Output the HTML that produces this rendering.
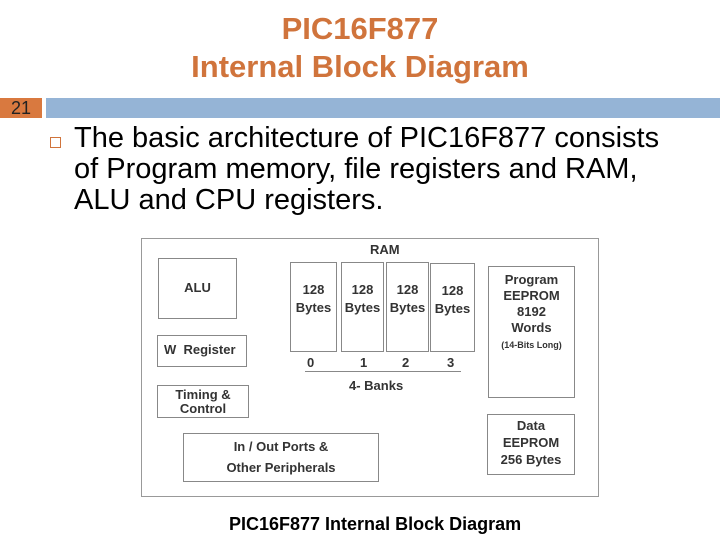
<!DOCTYPE html>
<html><head><style>
body{margin:0;width:720px;height:540px;background:#fff;position:relative;overflow:hidden;font-family:"Liberation Sans",sans-serif}
.a{position:absolute}
.t{color:#d0743c;font-size:31px;font-weight:bold;width:720px;text-align:center;left:0}
.b{position:absolute;border:1.5px solid #888;box-sizing:border-box;font-size:13px;font-weight:bold;color:#333;text-align:center;line-height:18px}
.d{position:absolute;font-size:13px;font-weight:bold;color:#333}
</style></head><body>
<div class="a t" style="top:11px">PIC16F877</div>
<div class="a t" style="top:49px">Internal Block Diagram</div>
<div class="a" style="left:0;top:98px;width:42px;height:20px;background:#d9793f;font-size:18px;line-height:20px;text-align:center;color:#222">21</div>
<div class="a" style="left:46px;top:98px;width:674px;height:20px;background:#95b4d6"></div>
<div class="a" style="left:50px;top:137px;width:9px;height:9px;border:1.5px solid #d0743c"></div>
<div class="a" style="left:74px;top:123px;font-size:29px;line-height:31px;color:#000;white-space:nowrap">The basic architecture of PIC16F877 consists<br>of Program memory, file registers and RAM,<br>ALU and CPU registers.</div>
<div class="b" style="left:141px;top:238px;width:458px;height:259px;border-color:#999"></div>
<div class="b" style="left:158px;top:258px;width:79px;height:61px;padding-top:20px">ALU</div>
<div class="b" style="left:157px;top:335px;width:90px;height:32px;padding-top:5px;text-align:left;padding-left:6px">W&nbsp; Register</div>
<div class="b" style="left:157px;top:385px;width:92px;height:33px;line-height:14px;padding-top:2px">Timing &amp;<br>Control</div>
<div class="b" style="left:183px;top:433px;width:196px;height:49px;line-height:21px;padding-top:2px">In / Out Ports &amp;<br>Other Peripherals</div>
<div class="d" style="left:370px;top:242px">RAM</div>
<div class="b" style="left:290px;top:262px;width:47px;height:90px;padding-top:18px">128<br>Bytes</div>
<div class="b" style="left:341px;top:262px;width:43px;height:90px;padding-top:18px">128<br>Bytes</div>
<div class="b" style="left:386px;top:262px;width:43px;height:90px;padding-top:18px">128<br>Bytes</div>
<div class="b" style="left:430px;top:263px;width:45px;height:89px;padding-top:18px">128<br>Bytes</div>
<div class="d" style="left:307px;top:355px">0</div>
<div class="d" style="left:360px;top:355px">1</div>
<div class="d" style="left:402px;top:355px">2</div>
<div class="d" style="left:447px;top:355px">3</div>
<div class="a" style="left:305px;top:371px;width:156px;height:1px;background:#888"></div>
<div class="d" style="left:349px;top:378px">4- Banks</div>
<div class="b" style="left:488px;top:266px;width:87px;height:132px;padding-top:5px;line-height:16px">Program<br>EEPROM<br>8192<br>Words<br><span style="font-size:9px">(14-Bits Long)</span></div>
<div class="b" style="left:487px;top:414px;width:88px;height:61px;padding-top:2px;line-height:17px">Data<br>EEPROM<br>256 Bytes</div>
<div class="a" style="left:229px;top:514px;font-size:18px;font-weight:bold;color:#000;white-space:nowrap">PIC16F877 Internal Block Diagram</div>
</body></html>
